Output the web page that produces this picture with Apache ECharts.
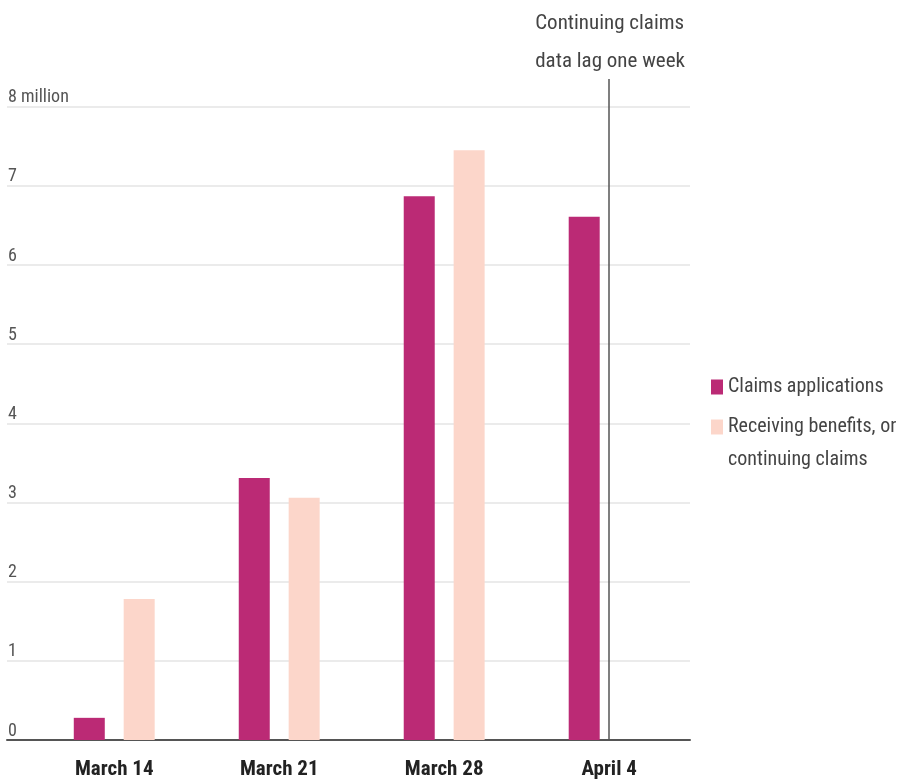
<!DOCTYPE html>
<html>
<head>
<meta charset="utf-8">
<script src="https://cdn.jsdelivr.net/npm/echarts@6/dist/echarts.min.js"></script>
<style>
  html, body { margin: 0; padding: 0; background: #fff; }
  #chart { width: 903px; height: 782px; }
</style>
</head>
<body>
<div id="chart"></div>
<script>
  // weeks shown on the x axis
  var weeks = ['March 14', 'March 21', 'March 28', 'April 4'];
  // millions
  var claims = [0.28, 3.31, 6.87, 6.61];
  var receiving = [1.78, 3.06, 7.45, null];
  var yTicks = [0, 1, 2, 3, 4, 5, 6, 7, 8];
  // week where continuing claims data stops
  var lagWeek = 3;

  var FONT = "'Liberation Sans Narrow', 'Roboto Condensed', 'DejaVu Sans Condensed', sans-serif";

  function toPairs(arr) {
    var out = [];
    for (var i = 0; i < arr.length; i++) {
      if (arr[i] != null) out.push([i, arr[i]]);
    }
    return out;
  }

  var myChart = echarts.init(document.getElementById('chart'));

  var option = {
    animation: false,
    title: [{
      text: 'Continuing claims\ndata lag one week',
      right: 213,
      top: 0,
      textStyle: { fontFamily: FONT, fontSize: 21, fontWeight: 'normal', color: '#444', lineHeight: 38 }
    }, {
      text: 'continuing claims',
      left: 723,
      top: 443,
      textStyle: { fontFamily: FONT, fontSize: 20, fontWeight: 'normal', color: '#444', lineHeight: 24 }
    }],
    legend: {
      orient: 'vertical',
      left: 706,
      top: 372,
      icon: 'rect',
      itemWidth: 12,
      itemHeight: 15,
      itemGap: 20,
      data: ['Claims applications', 'Receiving benefits, or continuing claims'],
      formatter: function (name) {
        return name == 'Receiving benefits, or continuing claims' ? 'Receiving benefits, or' : name;
      },
      textStyle: { fontFamily: FONT, fontSize: 20, color: '#444' }
    },
    // top leaves room for the lag line above the 8 million gridline
    grid: { left: 7, right: 213, top: 79, bottom: 42 },
    xAxis: {
      type: 'value',
      min: -0.65,
      max: 3.49,
      splitLine: { show: false },
      axisTick: { show: false },
      axisLine: { show: true, lineStyle: { color: '#555', width: 2 } },
      axisLabel: {
        customValues: [0, 1, 2, 3],
        formatter: function (v) { return weeks[Math.round(v)] || ''; },
        margin: 19,
        fontFamily: FONT,
        fontSize: 21,
        fontWeight: 'bold',
        color: '#222'
      }
    },
    yAxis: {
      type: 'value',
      min: 0,
      max: 8.35,
      interval: 1,
      axisLine: { show: false, onZero: false },
      axisTick: { show: false },
      splitLine: { showMaxLine: false, lineStyle: { color: '#e4e4e4', width: 1.5 } },
      axisLabel: {
        inside: true,
        margin: 1,
        verticalAlign: 'bottom',
        fontFamily: FONT,
        fontSize: 18,
        color: '#555',
        formatter: function (v) {
          if (yTicks.indexOf(v) < 0) return '';
          return v == 8 ? '8 million' : String(v);
        }
      }
    },
    series: [{
      name: 'Claims applications',
      type: 'bar',
      barWidth: 31,
      barGap: '61%',
      itemStyle: { color: '#bb2a75' },
      data: toPairs(claims)
    }, {
      name: 'Receiving benefits, or continuing claims',
      type: 'bar',
      barWidth: 31,
      barGap: '61%',
      itemStyle: { color: '#fcd6ca' },
      data: toPairs(receiving)
    }, {
      // carrier for the lag line only, so bar offsets don't shift it
      name: 'lag',
      type: 'line',
      data: [],
      markLine: {
        silent: true,
        symbol: 'none',
        label: { show: false },
        lineStyle: { color: '#555', width: 1.5, type: 'solid' },
        data: [{ xAxis: lagWeek }]
      }
    }]
  };

  myChart.setOption(option);
</script>
</body>
</html>
